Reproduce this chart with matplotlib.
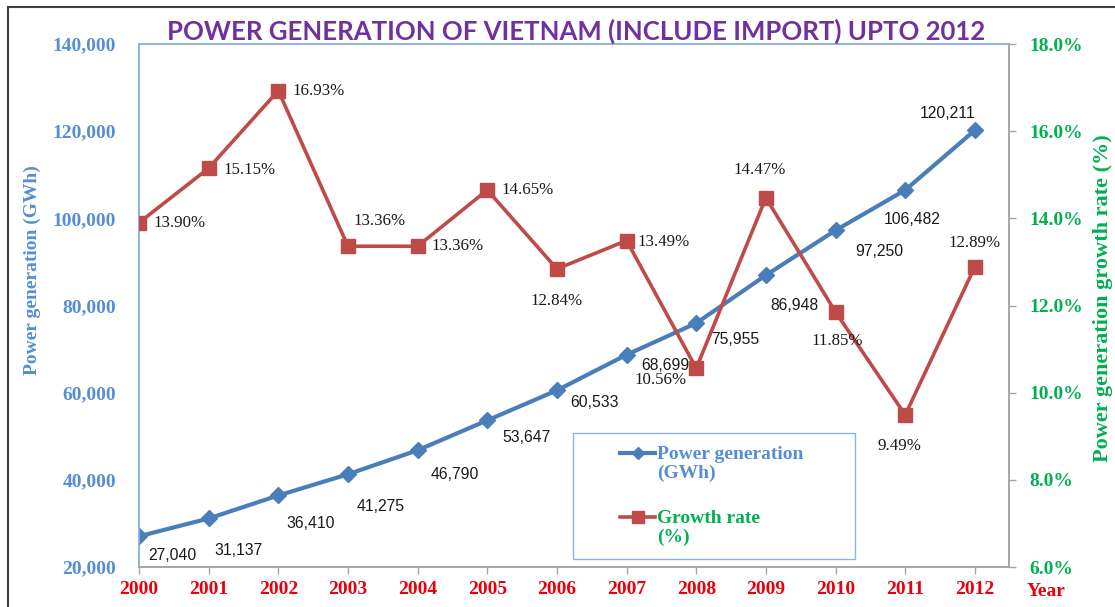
import matplotlib
matplotlib.use("Agg")
import matplotlib.pyplot as plt
from matplotlib.lines import Line2D
from matplotlib.patches import Rectangle
from matplotlib.ticker import FuncFormatter, MultipleLocator

years = [2000, 2001, 2002, 2003, 2004, 2005, 2006, 2007, 2008, 2009, 2010, 2011, 2012]
generation = [27040, 31137, 36410, 41275, 46790, 53647, 60533, 68699, 75955, 86948, 97250, 106482, 120211]
growth = [13.90, 15.15, 16.93, 13.36, 13.36, 14.65, 12.84, 13.49, 10.56, 14.47, 11.85, 9.49, 12.89]

# label offsets in pixels (dx, dy) with dy positive downward
gen_off = [(33, 19), (30, 32), (32, 28), (33, 32), (37, 24), (39, 17), (38, 12),
           (39, 11), (39, 16), (29, 30), (44, 21), (7, 29), (-27, -17)]
gro_off = [(41, 0), (41, 2), (40, 0), (32, -25), (40, 0), (40, 0), (0, 32),
           (37, 1), (-36, 12), (-6, -28), (2, 29), (-6, 31), (0, -24)]

W, H = 1115, 607
fig = plt.figure(figsize=(W / 100, H / 100), dpi=100)
fig.patch.set_facecolor("white")

L, R, T, B = 139, 1009, 44, 567
ax = fig.add_axes([L / W, 1 - B / H, (R - L) / W, (B - T) / H])
ax2 = ax.twinx()

BLUE = "#4a7ebb"
RED = "#be4b48"
TBLUE = "#558ed5"
GREEN = "#00b050"
XRED = "#e8000b"
PURPLE = "#7030a0"
serif = "Liberation Serif"

ax.plot(years, generation, color=BLUE, lw=3.0, marker="D", ms=8.5, zorder=3)
ax2.plot(years, growth, color=RED, lw=2.6, marker="s", ms=9.5, zorder=3)

ax.set_xlim(2000, 2012.49)
ax.set_ylim(20000, 140000)
ax2.set_ylim(6, 18)
ax.yaxis.set_major_locator(MultipleLocator(20000))
ax2.yaxis.set_major_locator(MultipleLocator(2))
ax.yaxis.set_major_formatter(FuncFormatter(lambda v, p: f"{int(v):,}"))
ax2.yaxis.set_major_formatter(FuncFormatter(lambda v, p: f"{v:.1f}%"))
ax.set_xticks(years)
ax.set_xticklabels([str(y) for y in years])

for a in (ax, ax2):
    a.spines["left"].set_color("#8db3e2")
    a.spines["top"].set_color("#8db3e2")
    a.spines["right"].set_color("#a6a6a6")
    a.spines["bottom"].set_color("#a6a6a6")
    for s in a.spines.values():
        s.set_linewidth(1.2)

ax.tick_params(axis="y", length=0, pad=16.5, labelsize=14, labelcolor=TBLUE)
ax.tick_params(axis="x", length=5, width=1, color="#a6a6a6", direction="out",
               pad=5, labelsize=14, labelcolor=XRED)
ax2.tick_params(axis="y", length=5, width=1, color="#a6a6a6", direction="out",
                pad=9.4, labelsize=14, labelcolor=GREEN)
for lab in ax.get_yticklabels() + ax.get_xticklabels() + ax2.get_yticklabels():
    lab.set_fontfamily(serif)
    lab.set_fontweight("bold")

for x, y, (dx, dy) in zip(years, generation, gen_off):
    ax.annotate(f"{y:,}", (x, y), xytext=(dx, -dy), textcoords="offset pixels",
                ha="center", va="center", fontsize=11.3, family="Liberation Sans",
                color="#1a1a1a", zorder=5)
for x, y, (dx, dy) in zip(years, growth, gro_off):
    ax2.annotate(f"{y:.2f}%", (x, y), xytext=(dx, -dy), textcoords="offset pixels",
                 ha="center", va="center", fontsize=12.2, family=serif,
                 color="#1a1a1a", zorder=5)

# axis titles
fig.text(32 / W, 1 - 270 / H, "Power generation (GWh)", rotation=90, ha="center",
         va="center", fontsize=14, family=serif, weight="bold", color=TBLUE)
fig.text(1103 / W, 1 - 298 / H, "Power generation growth rate (%)", rotation=90,
         ha="center", va="center", fontsize=16, family=serif, weight="bold", color=GREEN)
fig.text(1046 / W, 1 - 591 / H, "Year", ha="center", va="center", fontsize=14,
         family=serif, weight="bold", color=XRED)

# title fitted to the reference width
title = fig.text(576 / W, 1 - 31 / H, "POWER GENERATION OF VIETNAM (INCLUDE IMPORT) UPTO 2012",
                 ha="center", va="center", fontsize=18, family="Lato", weight="bold",
                 color=PURPLE)
fig.canvas.draw()
bb = title.get_window_extent()
title.set_fontsize(18 * 817 / bb.width)

# legend box drawn in figure pixels
def fx(px):
    return px / W

def fy(py):
    return 1 - py / H

fig.add_artist(Rectangle((fx(573), fy(559)), fx(855) - fx(573), fy(433) - fy(559),
                         transform=fig.transFigure, fill=True, facecolor="white",
                         edgecolor="#8db3e2", lw=1.0, zorder=10))
fig.add_artist(Line2D([fx(620), fx(655)], [fy(453), fy(453)], transform=fig.transFigure,
                      color=BLUE, lw=3.0, zorder=11))
fig.add_artist(Line2D([fx(637.5)], [fy(453)], transform=fig.transFigure, color=BLUE,
                      marker="D", ms=6, lw=0, zorder=12))
fig.add_artist(Line2D([fx(620), fx(655)], [fy(517), fy(517)], transform=fig.transFigure,
                      color=RED, lw=2.6, zorder=11))
fig.add_artist(Line2D([fx(637.5)], [fy(517)], transform=fig.transFigure, color=RED,
                      marker="s", ms=8, lw=0, zorder=12))
fig.text(fx(657), fy(464), "Power generation\n(GWh)", ha="left", va="center",
         fontsize=14, family=serif, weight="bold", color=TBLUE, linespacing=1.1, zorder=13)
fig.text(fx(657), fy(528), "Growth rate\n(%)", ha="left", va="center",
         fontsize=14, family=serif, weight="bold", color=GREEN, linespacing=1.1, zorder=13)

# outer frame (top and left edges visible)
fig.add_artist(Line2D([fx(8), 1.0], [fy(7), fy(7)], transform=fig.transFigure,
                      color="#404040", lw=1.5))
fig.add_artist(Line2D([fx(8), fx(8)], [fy(7), 0.0], transform=fig.transFigure,
                      color="#404040", lw=1.5))

fig.savefig("out.png", dpi=100)
